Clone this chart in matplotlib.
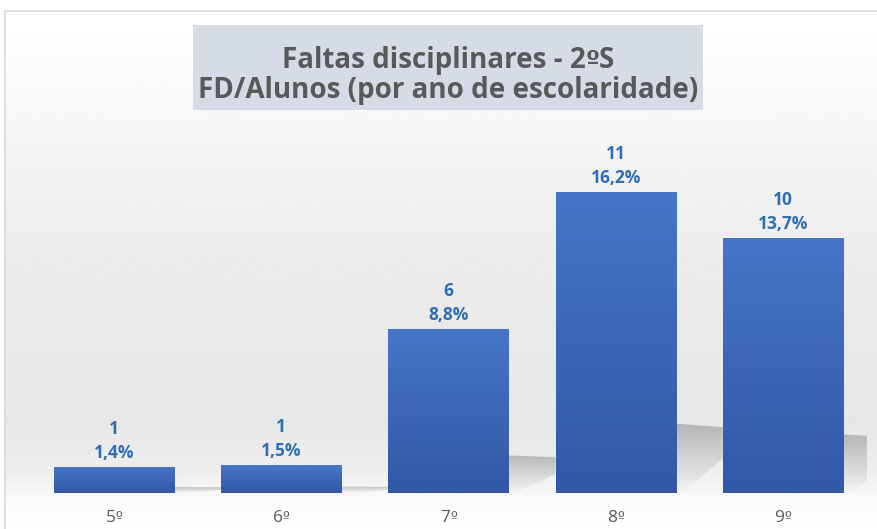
import numpy as np
import matplotlib.pyplot as plt
from matplotlib.colors import LinearSegmentedColormap, to_rgb
from matplotlib.patches import Rectangle, Polygon

anos = ['5º', '6º', '7º', '8º', '9º']
faltas = [1, 1, 6, 11, 10]
percent = [1.4, 1.5, 8.8, 16.2, 13.7]
pct_labels = ['1,4%', '1,5%', '8,8%', '16,2%', '13,7%']

W, H = 877, 529
FONT = 'Open Sans'
ORD_FONT = 'DejaVu Sans'   # has the underlined ordinal sign
fig = plt.figure(figsize=(W / 100, H / 100), dpi=100)
fig.patch.set_facecolor('white')
renderer = fig.canvas.get_renderer()

# background of the chart area (soft vertical grey gradient)
bg = fig.add_axes([0, 0, 1, 1], zorder=0)
bg.set_xlim(0, W)
bg.set_ylim(H, 0)
bg.axis('off')
rows = np.arange(H)
stops_y = [0, 11, 100, 250, 420, 470, 500, 529]
stops_v = [255, 255, 248, 236, 231, 238, 251, 255]
shade = np.interp(rows, stops_y, stops_v) / 255.0
grad = np.repeat(shade[:, None], 2, axis=1)
bg.imshow(grad, cmap='gray', vmin=0, vmax=1, extent=[5, W, H, 11], aspect='auto')
bg.plot([5, 5, W], [H, 11, 11], color='#d9d9d9', lw=1.2)


def centered_pieces(axis, xc, y, pieces, **kw):
    # lay out text pieces (string, family, size) side by side, centred on xc (pixels)
    texts = [axis.text(0, y, s, family=fam, fontsize=sz, ha='left', va='baseline', **kw)
             for s, fam, sz in pieces]
    widths = [t.get_window_extent(renderer).width for t in texts]
    xpos = xc - sum(widths) / 2
    for t, w in zip(texts, widths):
        t.set_x(xpos)
        xpos += w


# title box
bg.add_patch(Rectangle((193, 25), 510, 85, facecolor='#d6dce5', edgecolor='none'))
tkw = dict(fontweight='bold', color='#595959')
centered_pieces(bg, 448, 68, [('Faltas disciplinares - 2', FONT, 20), ('º', ORD_FONT, 18),
                              ('S', FONT, 20)], **tkw)
centered_pieces(bg, 448, 98, [('FD/Alunos (por ano de escolaridade)', FONT, 20)], **tkw)

# plot axes: baseline at y=493px, 18.6 px per percent point
px_per = 18.6
ax = fig.add_axes([30.4 / W, (H - 493) / H, 836.2 / W, 482 / H], zorder=1)
ax.patch.set_alpha(0)
for s in ax.spines.values():
    s.set_visible(False)
ax.set_yticks([])
x = np.arange(len(anos))
ax.set_xticks(x)
ax.set_xticklabels([])
ax.tick_params(axis='x', length=0)

bw = 0.72
gap = 1 - bw
top_c = np.array(to_rgb('#4675c7'))
bot_c = np.array(to_rgb('#3258a6'))
cmap = LinearSegmentedColormap.from_list('bar', [bot_c, top_c])
unit = 1 / px_per

# shadow image: darker at the top, fading downwards
ny = 60
a = np.linspace(0.02, 0.22, ny) ** 1.2
shadow_img = np.zeros((ny, 2, 4))
shadow_img[..., 3] = a[:, None] / a.max() * 0.22

for xi, p in zip(x, percent):
    sh = 0.23 * p
    x0 = xi + bw / 2
    poly = Polygon([(x0, 0), (x0, sh), (x0 + gap, sh * 0.95),
                    (x0 + gap, sh * 0.5), (x0 + gap * 0.15, 0)],
                   closed=True, facecolor='none', edgecolor='none')
    ax.add_patch(poly)
    sim = ax.imshow(shadow_img, origin='lower', extent=[x0, x0 + gap, 0, sh],
                    aspect='auto', zorder=1, interpolation='bilinear')
    sim.set_clip_path(poly)

    rect = Rectangle((xi - bw / 2, 0), bw, p, facecolor='none', edgecolor='none', zorder=2)
    ax.add_patch(rect)
    im = ax.imshow(np.linspace(0, 1, 100)[:, None], cmap=cmap, origin='lower',
                   extent=[xi - bw / 2, xi + bw / 2, 0, p], aspect='auto', zorder=2)
    im.set_clip_path(rect)

ax.set_xlim(-0.5, len(anos) - 0.5)
ax.set_ylim(0, 482 / px_per)

for xi, p, n, lab in zip(x, percent, faltas, pct_labels):
    ax.text(xi, p + 14 * unit, lab, ha='center', va='center', fontsize=12.5,
            fontweight='bold', color='#2f6eb5', family=FONT)
    ax.text(xi, p + 38 * unit, str(n), ha='center', va='center', fontsize=12.5,
            fontweight='bold', color='#2f6eb5', family=FONT)

# category labels: digit in Open Sans, ordinal sign from DejaVu
for xi, lab in zip(x, anos):
    xc = ax.transData.transform((xi, 0))[0]
    centered_pieces(bg, xc, 522, [(lab[:-1], FONT, 12.5), (lab[-1], ORD_FONT, 10.5)],
                    color='#595959')

fig.savefig('out.png', dpi=100)
